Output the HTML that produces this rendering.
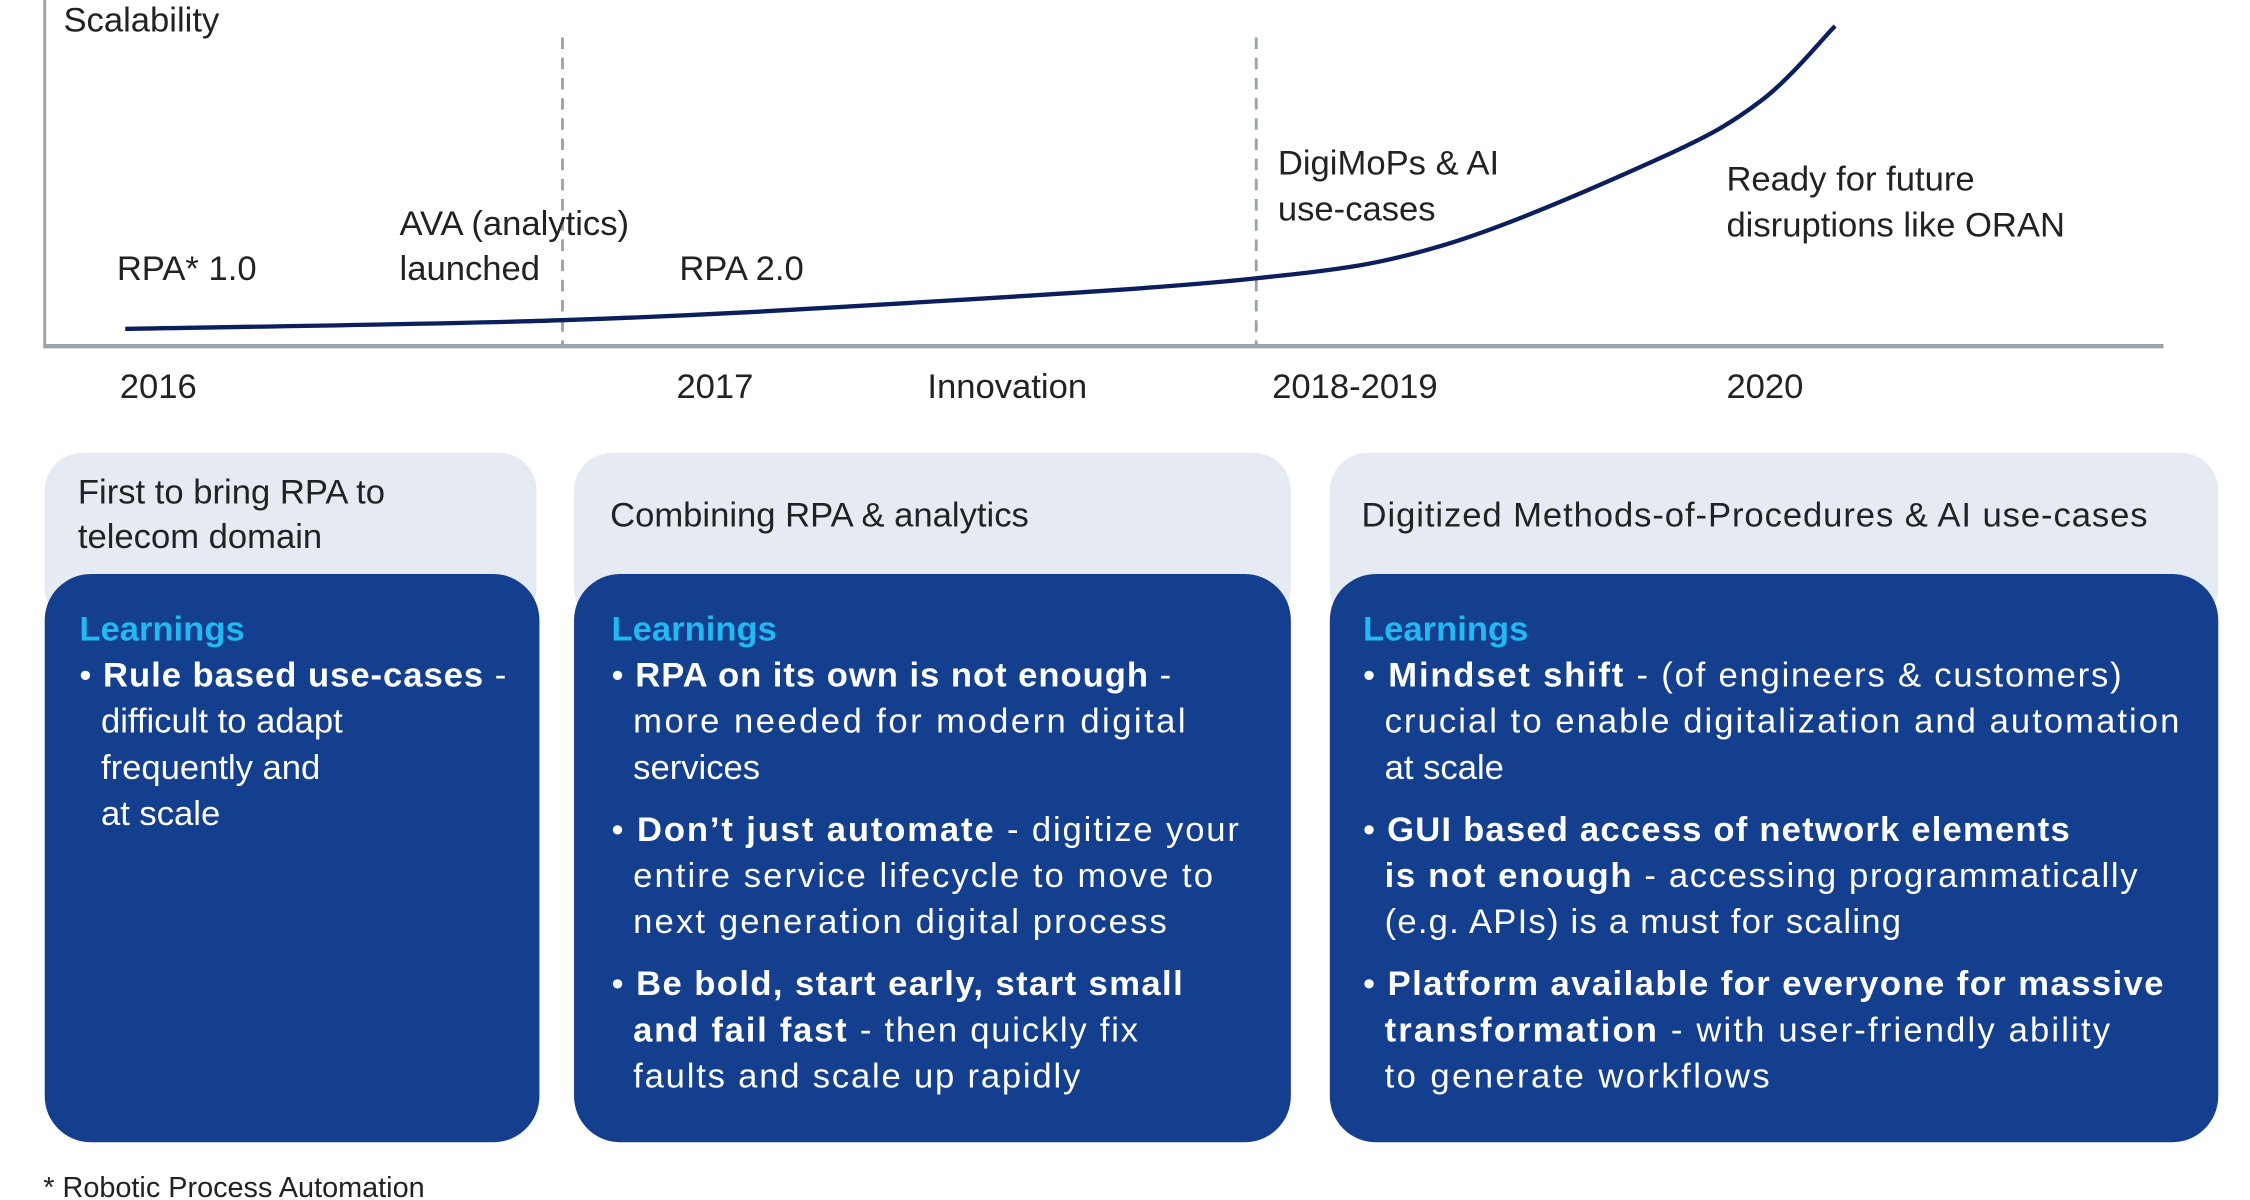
<!DOCTYPE html>
<html><head><meta charset="utf-8"><style>
html,body{margin:0;padding:0;background:#fff;}
svg{display:block;font-family:"Liberation Sans",sans-serif;}
.t{font-size:24px;fill:#222;}
.w{font-size:24px;fill:#fff;}
.b{font-weight:bold;}
.lr{font-size:24px;fill:#22b8f0;font-weight:bold;}
</style></head><body>
<svg id="chart" width="2250" height="1200" viewBox="0 0 1560 832" xmlns="http://www.w3.org/2000/svg">
<line x1="31" y1="0" x2="31" y2="240" stroke="#9aa3ad" stroke-width="2"/>
<line x1="30" y1="240" x2="1500" y2="240" stroke="#9aa3ad" stroke-width="3"/>
<text class="t" x="44" y="22">Scalability</text>
<line x1="390" y1="26" x2="390" y2="240" stroke="#9aa3ad" stroke-width="2" stroke-dasharray="8,6"/>
<line x1="871" y1="26" x2="871" y2="240" stroke="#9aa3ad" stroke-width="2" stroke-dasharray="8,6"/>
<g id="curve-layer"></g>
<text class="t" x="81" y="194">RPA* 1.0</text>
<text class="t" x="277" y="163">AVA (analytics)</text>
<text class="t" x="277" y="194">launched</text>
<text class="t" x="471" y="194">RPA 2.0</text>
<text class="t" x="886" y="121">DigiMoPs &amp; AI</text>
<text class="t" x="886" y="153">use-cases</text>
<text class="t" x="1197" y="132">Ready for future</text>
<text class="t" x="1197" y="164">disruptions like ORAN</text>
<text class="t" x="83" y="276">2016</text>
<text class="t" x="469" y="276">2017</text>
<text class="t" x="643" y="276">Innovation</text>
<text class="t" x="882" y="276">2018-2019</text>
<text class="t" x="1197" y="276">2020</text>

<!-- cards -->
<rect x="31" y="314" width="341" height="120" rx="26" fill="#e6ebf3"/>
<rect x="398" y="314" width="497" height="120" rx="26" fill="#e6ebf3"/>
<rect x="922" y="314" width="616" height="120" rx="26" fill="#e6ebf3"/>
<rect x="31" y="398" width="343" height="394" rx="32" fill="#143f8e"/>
<rect x="398" y="398" width="497" height="394" rx="32" fill="#143f8e"/>
<rect x="922" y="398" width="616" height="394" rx="32" fill="#143f8e"/>

<text class="t" x="54" y="349">First to bring RPA to</text>
<text class="t" x="54" y="380">telecom domain</text>
<text class="t" x="423" y="365">Combining RPA &amp; analytics</text>
<text class="t" x="944" y="365" textLength="545">Digitized Methods-of-Procedures &amp; AI use-cases</text>

<g>
<text class="lr" x="55" y="444">Learnings</text>
<text class="w" x="55" y="476" textLength="296">• <tspan class="b">Rule based use-cases</tspan> -</text>
<text class="w" x="70" y="508">difficult to adapt</text>
<text class="w" x="70" y="540">frequently and</text>
<text class="w" x="70" y="572">at scale</text>
</g>
<g>
<text class="lr" x="424" y="444">Learnings</text>
<text class="w" x="424" y="476" textLength="388">• <tspan class="b">RPA on its own is not enough</tspan> -</text>
<text class="w" x="439" y="508" textLength="383">more needed for modern digital</text>
<text class="w" x="439" y="540">services</text>
<text class="w" x="424" y="583" textLength="435">• <tspan class="b">Don’t just automate</tspan> - digitize your</text>
<text class="w" x="439" y="615" textLength="402">entire service lifecycle to move to</text>
<text class="w" x="439" y="647" textLength="370">next generation digital process</text>
<text class="w" x="424" y="690" textLength="396">• <tspan class="b">Be bold, start early, start small</tspan></text>
<text class="w" x="439" y="722" textLength="350"><tspan class="b">and fail fast</tspan> - then quickly fix</text>
<text class="w" x="439" y="754" textLength="310">faults and scale up rapidly</text>
</g>
<g>
<text class="lr" x="945" y="444">Learnings</text>
<text class="w" x="945" y="476" textLength="526">• <tspan class="b">Mindset shift</tspan> - (of engineers &amp; customers)</text>
<text class="w" x="960" y="508" textLength="551">crucial to enable digitalization and automation</text>
<text class="w" x="960" y="540">at scale</text>
<text class="w" x="945" y="583" textLength="490">• <tspan class="b">GUI based access of network elements</tspan></text>
<text class="w" x="960" y="615" textLength="522"><tspan class="b">is not enough</tspan> - accessing programmatically</text>
<text class="w" x="960" y="647" textLength="358">(e.g. APIs) is a must for scaling</text>
<text class="w" x="945" y="690" textLength="555">• <tspan class="b">Platform available for everyone for massive</tspan></text>
<text class="w" x="960" y="722" textLength="503"><tspan class="b">transformation</tspan> - with user-friendly ability</text>
<text class="w" x="960" y="754" textLength="267">to generate workflows</text>
</g>
<text x="30" y="830" font-size="20" fill="#222">* Robotic Process Automation</text>
</svg>
<script>
// curve data: time position (0-100 across axis) and scalability (0-100)
const timePos = [3.8, 24.4, 40.8, 57.2, 66, 76.2, 81, 84.5];
const scalability = [5.4, 8.1, 13.5, 21.2, 31.5, 58.6, 76.6, 100];
function xScale(t){ return 31 + t * (1500 - 31) / 100; }
function yScale(v){ return 240 - v * (240 - 18) / 100; }
const pts = timePos.map((t,i)=>[xScale(t), yScale(scalability[i])]);
let d = 'M' + pts[0][0] + ',' + pts[0][1];
for (let i=0;i<pts.length-1;i++){
  const p0 = pts[i-1]||pts[i], p1 = pts[i], p2 = pts[i+1], p3 = pts[i+2]||p2;
  const c1 = [p1[0]+(p2[0]-p0[0])/6, p1[1]+(p2[1]-p0[1])/6];
  const c2 = [p2[0]-(p3[0]-p1[0])/6, p2[1]-(p3[1]-p1[1])/6];
  d += ' C'+c1[0]+','+c1[1]+' '+c2[0]+','+c2[1]+' '+p2[0]+','+p2[1];
}
const path = document.createElementNS('http://www.w3.org/2000/svg','path');


path.setAttribute('d', d);
path.setAttribute('fill','none');
path.setAttribute('stroke','#0b1f5e');
path.setAttribute('stroke-width','3');
document.getElementById('curve-layer').appendChild(path);
</script>
</body></html>
